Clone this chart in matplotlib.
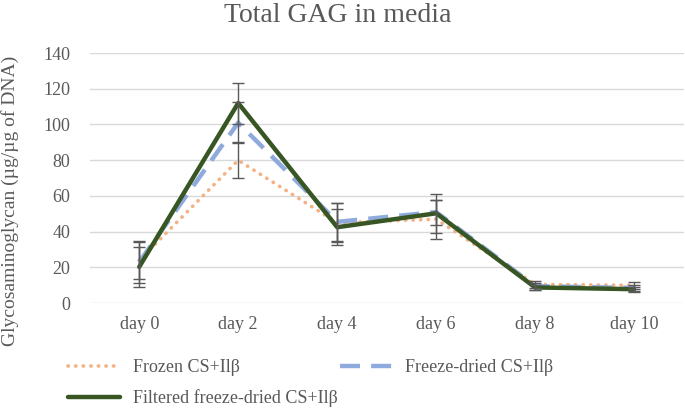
import matplotlib.pyplot as plt
import numpy as np

plt.rcParams['font.family'] = ['Liberation Serif', 'DejaVu Serif']

days = ['day 0', 'day 2', 'day 4', 'day 6', 'day 8', 'day 10']
frozen = [24, 80, 45, 47, 10.5, 10]
frozen_err = [10.5, 10, 11, 11, 2, 2]
freeze_dried = [23, 101, 45.5, 51, 9.5, 8.5]
freeze_dried_err = [12, 11.5, 10.5, 7, 2, 1.5]
filtered = [20.3, 112, 42.5, 50.3, 8.8, 7.8]
filtered_err = [11, 11.5, 10, 10.8, 1.5, 1.5]

txt = '#595959'
x = np.arange(len(days))

fig = plt.figure(figsize=(6.85, 4.08), dpi=100)
ax = fig.add_axes([0.131, 0.257, 0.867, 0.613])

l1, = ax.plot(x, frozen, color='#F4B183', lw=2.6, linestyle=(0, (0.1, 2.0)),
              dash_capstyle='round', label='Frozen CS+Ilβ', zorder=3)
l2, = ax.plot(x, freeze_dried, color='#8FAADC', lw=3.2, linestyle=(0, (4.5, 2.5)),
              label='Freeze-dried CS+Ilβ', zorder=4)
l3, = ax.plot(x, filtered, color='#375623', lw=3.2, solid_capstyle='round',
              label='Filtered freeze-dried CS+Ilβ', zorder=5)

for vals, errs in [(frozen, frozen_err), (freeze_dried, freeze_dried_err),
                   (filtered, filtered_err)]:
    ax.errorbar(x, vals, yerr=errs, fmt='none', ecolor='#595959', elinewidth=1,
                capsize=4, capthick=1, zorder=6)

ax.set_xlim(-0.5, len(days) - 0.5)
ax.set_ylim(0, 140)
ax.set_yticks(range(0, 141, 20))
ax.set_xticks(x)
ax.set_xticklabels(days)
ax.grid(axis='y', color='#d9d9d9', lw=1)
ax.set_axisbelow(True)
for s in ax.spines.values():
    s.set_visible(False)
ax.tick_params(length=0, labelsize=13, colors=txt)
ax.tick_params(axis='x', pad=9)
ax.tick_params(axis='y', pad=14)

fig.text(10 / 685, 1 - 201 / 408, 'Glycosaminoglycan (µg/µg of DNA)', fontsize=14,
         color=txt, rotation=90, ha='center', va='center')
fig.text(338 / 685, 1 - 22 / 408, 'Total GAG in media', fontsize=20, color=txt,
         ha='center', va='baseline')

# legend is filled column by column, so order gives rows: frozen | freeze-dried, filtered
fig.legend([l1, l3, l2], [l1.get_label(), l3.get_label(), l2.get_label()],
           loc='upper left', bbox_to_anchor=(68 / 685, 1 - 359 / 408), ncol=2,
           frameon=False, fontsize=13, handlelength=2.9, columnspacing=0.15,
           labelcolor=txt, handletextpad=0.7, borderaxespad=0, borderpad=0,
           labelspacing=0.75)

fig.savefig('out.png', dpi=100)
